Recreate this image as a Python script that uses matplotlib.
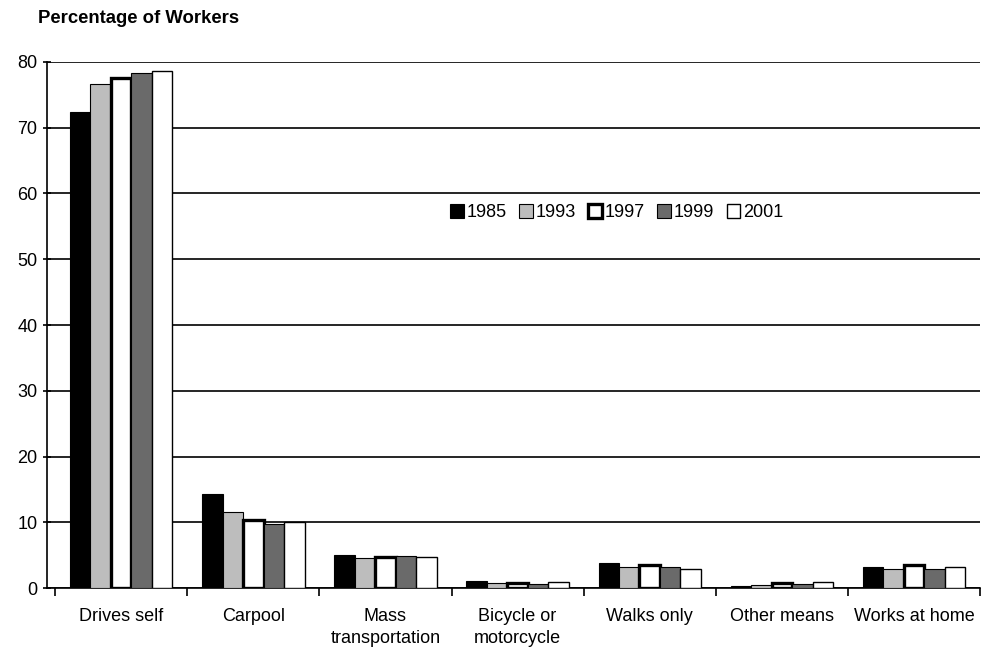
import numpy as np
import matplotlib.pyplot as plt

plt.rcParams['font.family'] = ['Liberation Sans', 'DejaVu Sans']

categories = ['Drives self', 'Carpool', 'Mass\ntransportation', 'Bicycle or\nmotorcycle',
              'Walks only', 'Other means', 'Works at home']
years = ['1985', '1993', '1997', '1999', '2001']
v1985 = [72.4, 14.3, 5.1, 1.1, 3.9, 0.4, 3.2]
v1993 = [76.6, 11.6, 4.6, 0.8, 3.2, 0.5, 3.0]
v1997 = [77.6, 10.3, 4.7, 0.8, 3.5, 0.8, 3.5]
v1999 = [78.3, 9.8, 4.9, 0.7, 3.2, 0.7, 3.0]
v2001 = [78.6, 10.0, 4.7, 1.0, 2.9, 1.0, 3.2]
series = [v1985, v1993, v1997, v1999, v2001]

colors = ['black', '#bdbdbd', 'white', '#6a6a6a', 'white']
edge_widths = [0.8, 0.8, 2.4, 0.8, 1.0]

fig = plt.figure(figsize=(9.83, 6.5), dpi=100)
ax = fig.add_axes([0.048, 0.095, 0.949, 0.81])

x = np.arange(len(categories))
w = 0.155
for i, (vals, yr) in enumerate(zip(series, years)):
    ax.bar(x - 2 * w + i * w, vals, width=w, color=colors[i], edgecolor='black',
           linewidth=edge_widths[i], label=yr, zorder=3)

ax.set_ylim(0, 80)
ax.set_xlim(-0.56, len(categories) - 0.5)
ax.set_yticks(range(0, 81, 10))
ax.yaxis.grid(True, color='black', linewidth=1.2, zorder=0)
ax.tick_params(axis='y', labelsize=13, direction='inout', length=6, width=1.2, pad=4)

ax.set_xticks(x)
ax.set_xticklabels(categories, fontsize=13, linespacing=1.4)
ax.tick_params(axis='x', which='major', length=0, pad=14)
ax.set_xticks(np.arange(len(categories) + 1) - 0.5, minor=True)
ax.tick_params(axis='x', which='minor', length=6, width=1.2, direction='out')

for s in ['top', 'right']:
    ax.spines[s].set_visible(False)
ax.spines['left'].set_linewidth(1.2)
ax.spines['bottom'].set_linewidth(1.2)

ax.legend(loc='center left', bbox_to_anchor=(0.432, 0.713), ncol=5, frameon=False,
          fontsize=13, handlelength=0.75, handleheight=0.75, handletextpad=0.15,
          columnspacing=0.7, borderaxespad=0, borderpad=0)

fig.text(0.039, 0.972, 'Percentage of Workers', fontsize=13.3, fontweight='bold',
         ha='left', va='center')

plt.savefig('out.png', dpi=100)
